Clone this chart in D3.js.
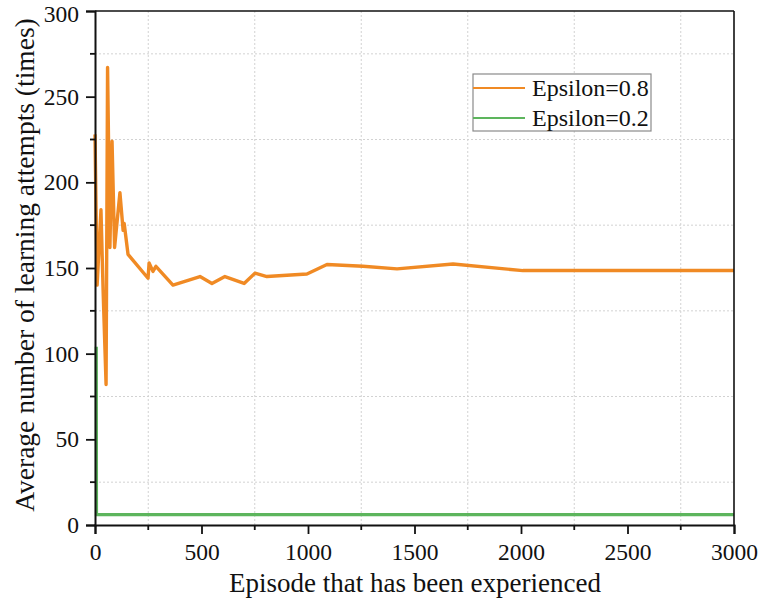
<!DOCTYPE html>
<html>
<head>
<meta charset="utf-8">
<script src="https://cdn.jsdelivr.net/npm/d3@7"></script>
<style>
  html, body { margin: 0; padding: 0; background: #fff; }
  svg { display: block; }
  text { font-family: "Liberation Serif", "Times New Roman", serif; fill: #111; }
</style>
</head>
<body>
<svg id="chart" width="761" height="607"></svg>
<script>
// Average learning attempts per episode, two exploration rates
const episodesHigh = [0, 10, 28, 38, 52, 59, 70, 80, 92, 117, 132, 137, 155, 249, 254, 272, 286, 366, 493, 549, 610, 700, 751, 807, 995, 1089, 1258, 1418, 1681, 2009, 3000];
const attemptsHigh = [228, 140, 184, 137, 82, 267, 162, 224, 162, 194, 172, 176, 158, 144, 153, 148, 151, 140, 145, 141, 145, 141, 147, 145, 146.5, 152, 151, 149.5, 152.3, 148.5, 148.5];

const episodesLow = [6, 7, 3000];
const attemptsLow = [104, 6, 6];

const seriesNames = ["Epsilon=0.8", "Epsilon=0.2"];
const seriesColors = ["#F08A24", "#5DB55D"];

const xTicks = [0, 500, 1000, 1500, 2000, 2500, 3000];
const yTicks = [0, 50, 100, 150, 200, 250, 300];
const xMinor = [250, 750, 1250, 1750, 2250, 2750];
const yMinor = [25, 75, 125, 175, 225, 275];

const xTitle = "Episode that has been experienced";
const yTitle = "Average number of learning attempts (times)";

const svg = d3.select("#chart");
const plotLeft = 95, plotRight = 734, plotTop = 11, plotBottom = 525;

const x = d3.scaleLinear().domain([0, 3000]).range([plotLeft, plotRight]);
const y = d3.scaleLinear().domain([0, 300]).range([plotBottom, plotTop]);

// dashed grid at the half-step positions
const grid = svg.append("g").attr("stroke", "#d2d2d2").attr("stroke-width", 1).attr("stroke-dasharray", "2,2");
grid.selectAll(".gx").data(xMinor).join("line")
  .attr("x1", d => x(d)).attr("x2", d => x(d)).attr("y1", plotTop).attr("y2", plotBottom);
grid.selectAll(".gy").data(yMinor).join("line")
  .attr("x1", plotLeft).attr("x2", plotRight).attr("y1", d => y(d)).attr("y2", d => y(d));

// series lines
const line = d3.line().x(d => x(d[0])).y(d => y(d[1]));
const highData = episodesHigh.map((e, i) => [e, attemptsHigh[i]]);
const lowData = episodesLow.map((e, i) => [e, attemptsLow[i]]);

svg.append("path").datum(lowData).attr("d", line)
  .attr("fill", "none").attr("stroke", seriesColors[1]).attr("stroke-width", 3.2)
  .attr("stroke-linejoin", "miter");
svg.append("path").datum(highData).attr("d", line)
  .attr("fill", "none").attr("stroke", seriesColors[0]).attr("stroke-width", 3.4)
  .attr("stroke-linejoin", "round");

// frame
svg.append("line").attr("x1", plotLeft).attr("x2", plotRight).attr("y1", plotTop).attr("y2", plotTop)
  .attr("stroke", "#111").attr("stroke-width", 1.6);
svg.append("line").attr("x1", plotRight).attr("x2", plotRight).attr("y1", plotTop).attr("y2", plotBottom)
  .attr("stroke", "#111").attr("stroke-width", 1.6);

// axes
const xAxis = d3.axisBottom(x).tickValues(xTicks).tickSize(9).tickPadding(9).tickFormat(d3.format("d"));
const yAxis = d3.axisLeft(y).tickValues(yTicks).tickSize(9).tickPadding(7).tickFormat(d3.format("d"));

const gx = svg.append("g").attr("transform", `translate(0,${plotBottom})`).call(xAxis);
const gy = svg.append("g").attr("transform", `translate(${plotLeft},0)`).call(yAxis);

[gx, gy].forEach(g => {
  g.select(".domain").attr("stroke", "#111").attr("stroke-width", 2);
  g.selectAll(".tick line").attr("stroke", "#111").attr("stroke-width", 1.8);
  g.selectAll(".tick text").attr("font-size", 23.5).attr("font-family", "Liberation Serif").attr("fill", "#111");
});
// keep the topmost y label inside the page
gy.selectAll(".tick text").filter(d => d === 300).attr("dy", "0.45em");

// minor ticks
gx.selectAll(".minor").data(xMinor).join("line")
  .attr("x1", d => x(d)).attr("x2", d => x(d)).attr("y1", 0).attr("y2", 5)
  .attr("stroke", "#111").attr("stroke-width", 1.8);
gy.selectAll(".minor").data(yMinor).join("line")
  .attr("y1", d => y(d)).attr("y2", d => y(d)).attr("x1", 0).attr("x2", -5)
  .attr("stroke", "#111").attr("stroke-width", 1.8);

// axis titles
svg.append("text").attr("x", 415).attr("y", 592)
  .attr("text-anchor", "middle").attr("font-size", 27).text(xTitle);
svg.append("text")
  .attr("transform", `translate(34,265) rotate(-90)`)
  .attr("text-anchor", "middle").attr("font-size", 27.5).text(yTitle);

// legend
const legend = svg.append("g");
legend.append("rect").attr("x", 473).attr("y", 74).attr("width", 178).attr("height", 57)
  .attr("fill", "#fff").attr("stroke", "#8a8a8a").attr("stroke-width", 1.2);
seriesNames.forEach((name, i) => {
  const ly = 88 + i * 30;
  legend.append("line").attr("x1", 473).attr("x2", 525).attr("y1", ly).attr("y2", ly)
    .attr("stroke", seriesColors[i]).attr("stroke-width", 2);
  legend.append("text").attr("x", 532).attr("y", ly + 8).attr("font-size", 24).text(name);
});
</script>
</body>
</html>
